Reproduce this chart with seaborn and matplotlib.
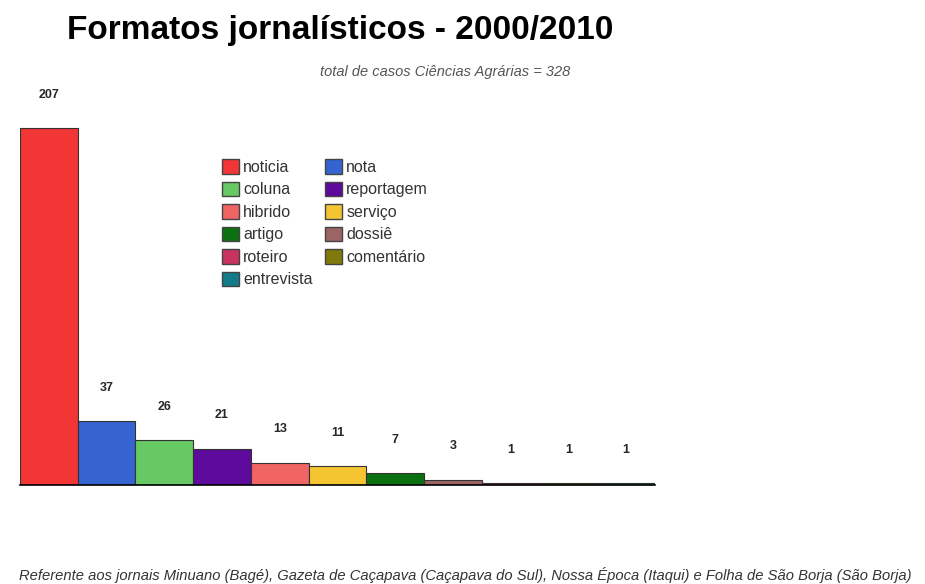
import matplotlib
matplotlib.use("Agg")
import matplotlib.pyplot as plt
import matplotlib.patches as mpatches
import seaborn as sns
import pandas as pd

# dados
formatos = ["noticia", "nota", "coluna", "reportagem", "hibrido", "serviço",
            "artigo", "dossiê", "roteiro", "comentário", "entrevista"]
casos = [207, 37, 26, 21, 13, 11, 7, 3, 1, 1, 1]
cores = ["#f23535", "#3563cf", "#66c963", "#5e0a9c", "#f06464", "#f5c431",
         "#0a7010", "#9c6464", "#c8345f", "#7f7a0a", "#127c88"]
ordem_legenda = ["noticia", "coluna", "hibrido", "artigo", "roteiro", "entrevista",
                 "nota", "reportagem", "serviço", "dossiê", "comentário"]

df = pd.DataFrame({"formato": formatos, "casos": casos})
paleta = dict(zip(formatos, cores))

sns.set_theme(style="white")
plt.rcParams["font.family"] = ["Liberation Sans", "DejaVu Sans"]

fig = plt.figure(figsize=(9.25, 5.84), dpi=100)
ax = fig.add_axes([20 / 925, 99 / 584, 635 / 925, 414 / 584])

sns.barplot(data=df, x="formato", y="casos", hue="formato", palette=paleta,
            width=1.0, saturation=1, edgecolor="#333333", linewidth=0.8,
            legend=False, ax=ax)

for i, v in enumerate(casos):
    ax.annotate(str(v), (i, v), xytext=(0, 24), textcoords="offset points",
                ha="center", va="center", fontsize=9, fontweight="bold",
                family=["Liberation Sans Narrow", "Liberation Sans"])

ax.set_xlim(-0.5, len(formatos) - 0.5)
ax.set_ylim(0, 240)
ax.set_xticks([])
ax.set_yticks([])
ax.set_xlabel("")
ax.set_ylabel("")
for s in ["top", "right", "left"]:
    ax.spines[s].set_visible(False)
ax.spines["bottom"].set_color("black")
ax.spines["bottom"].set_linewidth(1.2)

handles = [mpatches.Patch(facecolor=paleta[f], edgecolor="#444444", label=f)
           for f in ordem_legenda]
fig.legend(handles=handles, ncol=2, loc="upper left",
           bbox_to_anchor=(208 / 925, 1 - 145 / 584), frameon=False,
           fontsize=11.5, handlelength=1.05, handleheight=1.0, handletextpad=0.25,
           columnspacing=0.8, labelspacing=0.43, labelcolor="#333333")

fig.text(340 / 925, 1 - 30 / 584, "Formatos jornalísticos - 2000/2010",
         ha="center", va="center", fontsize=24, fontweight="bold", color="black")
fig.text(445 / 925, 1 - 72 / 584, "total de casos Ciências Agrárias = 328",
         ha="center", va="center", fontsize=10.5, style="italic", color="#555555")
fig.text(465 / 925, 1 - 575 / 584,
         "Referente aos jornais Minuano (Bagé), Gazeta de Caçapava (Caçapava do Sul), "
         "Nossa Época (Itaqui) e Folha de São Borja (São Borja)",
         ha="center", va="center", fontsize=10.6, style="italic", color="#333333")

fig.savefig("out.png", dpi=100, facecolor="white")
